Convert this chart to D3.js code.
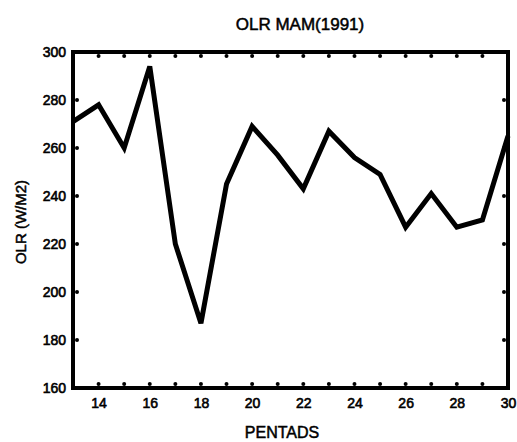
<!DOCTYPE html>
<html><head><meta charset="utf-8">
<script src="https://cdn.jsdelivr.net/npm/d3@7"></script>
<style>body{margin:0;background:#fff}svg{display:block}</style>
</head><body>
<script>
const pentads = [13,14,15,16,17,18,19,20,21,22,23,24,25,26,27,28,29,30];
const olr = [271,278,260,294,220,187,245,269,257,243,267,256,249,227,241,227,230,265];
const xTickLabels = [14,16,18,20,22,24,26,28,30];
const yTickLabels = [160,180,200,220,240,260,280,300];
const minorX = d3.range(13,31);

const W=517,H=442;
const L=73,R=508,T=52,B=388;
const svg=d3.select("body").append("svg").attr("width",W).attr("height",H);
const x=d3.scaleLinear().domain([13,30]).range([L,R]);
const y=d3.scaleLinear().domain([160,300]).range([B,T]);
const font="Liberation Sans, Arial, sans-serif";

// data line
svg.append("path").datum(olr.map((v,i)=>[pentads[i],v]))
 .attr("d",d3.line().x(d=>x(d[0])).y(d=>y(d[1])))
 .attr("fill","none").attr("stroke","#000").attr("stroke-width",5).attr("stroke-linejoin","miter");

// axes
const bottom=svg.append("g").attr("transform",`translate(0,${B})`)
 .call(d3.axisBottom(x).tickValues(xTickLabels).tickFormat(d3.format("d")).tickSize(0).tickPadding(10));
const left=svg.append("g").attr("transform",`translate(${L},0)`)
 .call(d3.axisLeft(y).tickValues(yTickLabels).tickFormat(d3.format("d")).tickSize(0).tickPadding(7));
[bottom,left].forEach(g=>{g.select(".domain").remove();g.selectAll("text").attr("font-family",font).attr("font-size",14).attr("fill","#000").attr("stroke","#000").attr("stroke-width",0.6);});

// inward tick dots
const tickG=svg.append("g").attr("fill","#000");
minorX.slice(1,-1).forEach(v=>{
  tickG.append("circle").attr("cx",x(v)).attr("cy",B-4).attr("r",2);
  tickG.append("circle").attr("cx",x(v)).attr("cy",T+4).attr("r",2);
});
yTickLabels.slice(1,-1).forEach(v=>{
  tickG.append("circle").attr("cx",L+4).attr("cy",y(v)).attr("r",2);
  tickG.append("circle").attr("cx",R-4).attr("cy",y(v)).attr("r",2);
});

// frame
svg.append("rect").attr("x",L).attr("y",T).attr("width",R-L).attr("height",B-T)
 .attr("fill","none").attr("stroke","#000").attr("stroke-width",4);

// titles
const tattr=s=>s.attr("font-family",font).attr("fill","#000").attr("stroke","#000").attr("stroke-width",0.5).attr("text-anchor","middle");
svg.append("text").attr("x",300).attr("y",30).attr("font-size",17).call(tattr).text("OLR MAM(1991)");
svg.append("text").attr("x",282).attr("y",438).attr("font-size",16).call(tattr).text("PENTADS");
svg.append("text").attr("transform","translate(26,222) rotate(-90)").attr("font-size",15).call(tattr).text("OLR (W/M2)");
</script>
</body></html>
